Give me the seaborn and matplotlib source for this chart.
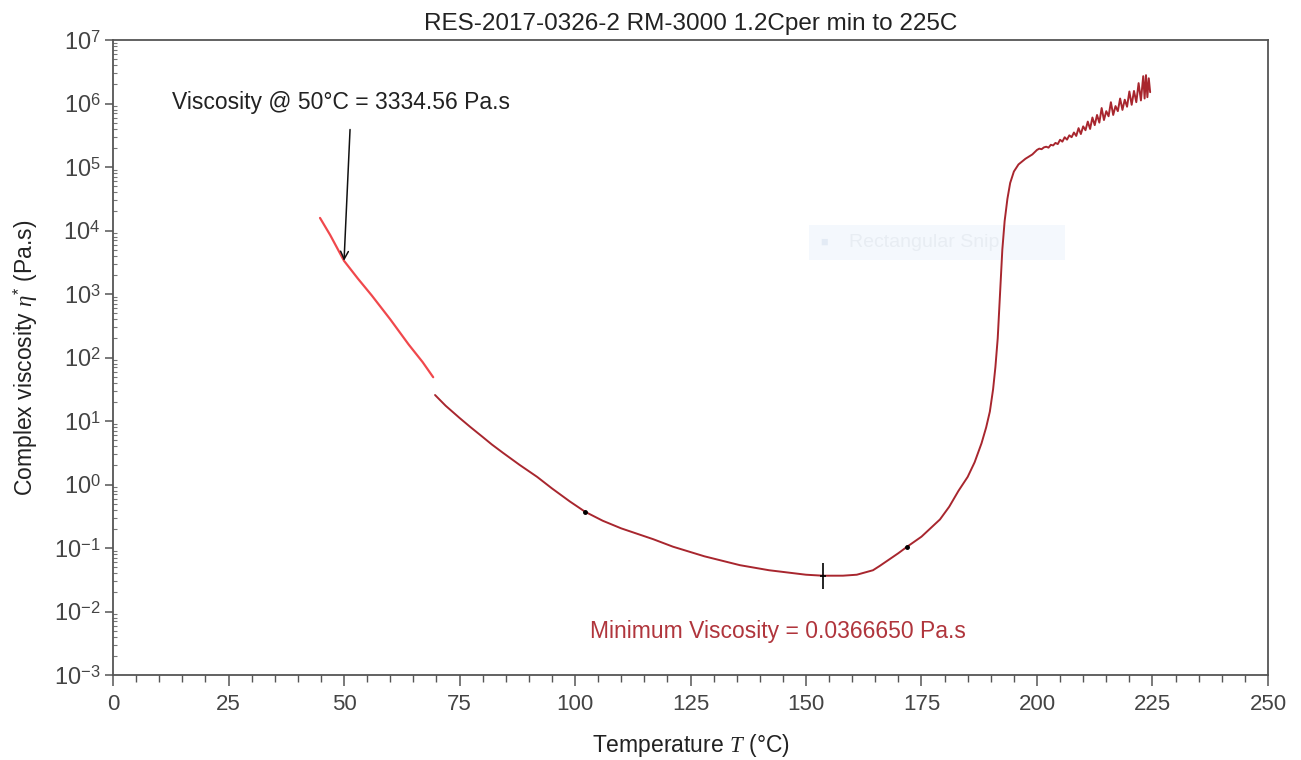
import matplotlib
matplotlib.use('Agg')
import matplotlib.pyplot as plt
import matplotlib.ticker as mticker
from matplotlib.patches import Rectangle
import seaborn as sns

# bright red start of the run (Pa.s vs degC)
temp_start = [44.8, 47.0, 50.0, 53.0, 56.0, 60.0, 64.0, 67.0, 69.3]
visc_start = [15800, 8500, 3334.56, 1750, 950, 400, 160, 85, 49]

# main run, dark red
temp_main = [69.7, 72.0, 75.0, 77.3, 80.0, 82.0, 84.4, 88.0, 91.8, 95.0, 98.9,
             102.2, 106.0, 110.0, 116.9, 121.2, 128.0, 135.7, 142.0, 150.0,
             153.7, 158.0, 161.0, 164.5, 166.0, 168.0, 170.0, 171.9, 175.0,
             179.0, 181.0, 183.0, 185.0, 186.5, 188.0, 189.0, 189.8, 190.5,
             191.0, 191.5, 192.0, 192.5, 193.0, 193.6, 194.2, 195.0, 196.0,
             197.5, 199.0,
             200.0, 200.5, 201.0, 201.5, 202.0, 202.5, 203.0, 203.5, 204.0,
             204.5, 205.0, 205.5, 206.0, 206.5, 207.0, 207.5, 208.0, 208.5,
             209.0, 209.5, 210.0, 210.5, 211.0, 211.5, 212.0, 212.5, 213.0,
             213.5, 214.0, 214.5, 215.0, 215.5, 216.0, 216.5, 217.0, 217.5,
             218.0, 218.5, 219.0, 219.5, 220.0, 220.5, 221.0, 221.5, 222.0,
             222.5, 223.0, 223.3, 223.6, 223.9, 224.2, 224.5]
visc_main = [25.7, 17.4, 11.2, 8.1, 5.62, 4.27, 3.16, 2.04, 1.32, 0.87, 0.54,
             0.372, 0.269, 0.204, 0.138, 0.105, 0.0741, 0.0537, 0.0447, 0.0380,
             0.036665, 0.0367, 0.0380, 0.0447, 0.0525, 0.066, 0.083, 0.105, 0.151,
             0.282, 0.447, 0.794, 1.32, 2.24, 4.47, 7.94, 14.1, 31.6,
             70.8, 200, 1000, 5010, 1.41e4, 3.16e4, 5.62e4, 8.5e4, 1.10e5,
             1.35e5, 1.58e5,
             1.86e5, 1.95e5, 1.91e5, 2.04e5, 2.09e5, 2.02e5, 2.24e5, 2.19e5, 2.40e5,
             2.30e5, 2.69e5, 2.51e5, 2.95e5, 2.70e5, 3.16e5, 2.95e5, 3.50e5, 3.09e5,
             4.10e5, 3.31e5, 4.37e5, 3.80e5, 5.20e5, 3.98e5, 6.03e5, 4.57e5, 6.61e5,
             5.01e5, 8.5e5, 5.50e5, 7.59e5, 6.31e5, 1.05e6, 6.61e5, 9.12e5, 7.59e5,
             1.20e6, 7.94e5, 1.15e6, 8.91e5, 1.55e6, 9.55e5, 1.58e6, 1.05e6, 2.1e6,
             1.12e6, 2.7e6, 1.20e6, 2.8e6, 1.26e6, 2.5e6, 1.51e6]

# small cursor marks on the curve
dot_temp = [102.2, 171.9]
dot_visc = [0.372, 0.105]
min_temp = 153.7
min_visc = 0.036665

x_ticks = [0, 25, 50, 75, 100, 125, 150, 175, 200, 225, 250]
y_ticks = [1e-3, 1e-2, 1e-1, 1e0, 1e1, 1e2, 1e3, 1e4, 1e5, 1e6, 1e7]
y_labels = [r'$10^{-3}$', r'$10^{-2}$', r'$10^{-1}$', r'$10^{0}$', r'$10^{1}$',
            r'$10^{2}$', r'$10^{3}$', r'$10^{4}$', r'$10^{5}$', r'$10^{6}$', r'$10^{7}$']

sns.set_style('ticks')
plt.rcParams['font.family'] = ['Liberation Sans', 'DejaVu Sans']
plt.rcParams['mathtext.fontset'] = 'custom'
plt.rcParams['mathtext.rm'] = 'Liberation Sans'
plt.rcParams['mathtext.it'] = 'Liberation Serif:italic'
plt.rcParams['mathtext.bf'] = 'Liberation Sans:bold'

fig = plt.figure(figsize=(13.01, 7.6), dpi=100)
ax = fig.add_axes([0.0869, 0.1118, 0.8877, 0.8355])

# faint leftover of a screen snip tool
ax.add_patch(Rectangle((0.603, 0.654), 0.221, 0.055, transform=ax.transAxes,
                       facecolor='#f4f8fd', edgecolor='none', zorder=0))
ax.text(0.612, 0.681, u'\u25a0', transform=ax.transAxes, color='#e3ebf5',
        fontsize=9, va='center', zorder=0)
ax.text(0.637, 0.681, 'Rectangular Snip', transform=ax.transAxes, color='#e8edf3',
        fontsize=14, va='center', zorder=0)

sns.lineplot(x=temp_start, y=visc_start, ax=ax, color='#f0484c', lw=1.6,
             estimator=None, sort=False)
sns.lineplot(x=temp_main, y=visc_main, ax=ax, color='#a8262e', lw=1.4,
             estimator=None, sort=False)
ax.plot(dot_temp, dot_visc, 'o', color='k', ms=2.5, zorder=5)
ax.plot([min_temp], [min_visc], marker='|', ms=19, mew=1.2, color='k', zorder=5)
ax.plot([min_temp], [min_visc], marker='_', ms=5, mew=1.2, color='k', zorder=5)

ax.set_yscale('log')
ax.set_xlim(0, 250)
ax.set_ylim(1e-3, 1e7)
ax.set_xticks(x_ticks)
ax.xaxis.set_minor_locator(mticker.MultipleLocator(5))
ax.set_yticks(y_ticks)
ax.set_yticklabels(y_labels)
ax.yaxis.set_minor_locator(mticker.LogLocator(base=10, subs=range(2, 10), numticks=100))
ax.yaxis.set_minor_formatter(mticker.NullFormatter())

for s in ax.spines.values():
    s.set_color('#555555')
    s.set_linewidth(1.3)
ax.tick_params(axis='x', which='major', direction='out', length=8, width=1.1,
               color='#555555', labelsize=16, labelcolor='#444444', pad=6)
ax.tick_params(axis='x', which='minor', direction='out', length=5, width=1,
               color='#555555')
ax.tick_params(axis='y', which='major', direction='out', length=6, width=1.1,
               color='#555555', labelsize=17, labelcolor='#444444', pad=3)
ax.tick_params(axis='y', which='minor', direction='in', length=3, width=0.8,
               color='#777777')

ax.set_xlabel(r'Temperature $T$ (°C)', fontsize=16.5, color='#222222', labelpad=12)
ax.set_ylabel(r'Complex viscosity $\eta^{*}$ (Pa.s)', fontsize=16.5, color='#222222',
              labelpad=10)
ax.set_title('RES-2017-0326-2 RM-3000 1.2Cper min to 225C', fontsize=17.5,
             color='#222222', pad=7)

ax.annotate('', xy=(50, 3334.56), xytext=(51.3, 3.9e5),
            arrowprops=dict(arrowstyle='->', color='#111111', lw=1.1,
                            mutation_scale=14, shrinkA=0, shrinkB=0))
ax.text(12.8, 1.05e6, 'Viscosity @ 50°C = 3334.56 Pa.s', fontsize=16.5,
        color='#222222', va='center', ha='left')
ax.text(103.2, 4.8e-3, 'Minimum Viscosity = 0.0366650 Pa.s', fontsize=16.5,
        color='#b0353c', va='center', ha='left')

fig.savefig('out.png', dpi=100)
